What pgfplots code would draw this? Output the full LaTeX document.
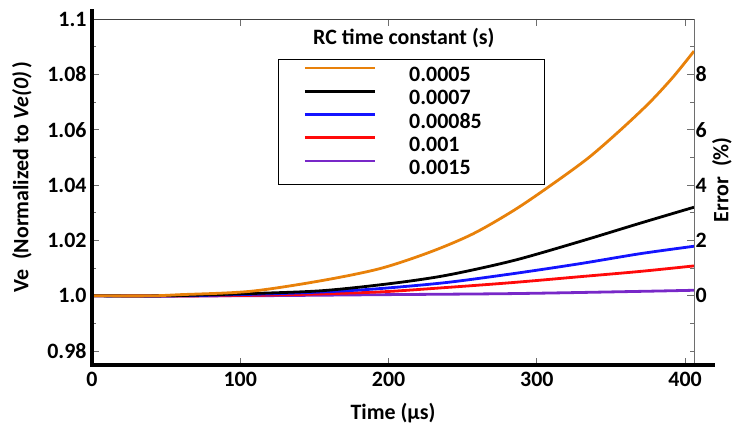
\documentclass[border=0pt]{standalone}
\usepackage{pgfplots}
\pgfplotsset{compat=1.18}
\usepackage{fontspec}
\setmainfont{Carlito}
\usetikzlibrary{calc}
\definecolor{corange}{RGB}{232,129,10}
\definecolor{cpurple}{RGB}{120,40,200}
\definecolor{cblue}{RGB}{20,20,255}
\definecolor{cred}{RGB}{255,10,10}
\definecolor{tickgray}{RGB}{110,110,110}
\newcommand{\tfont}{\fontsize{22}{24}\selectfont\bfseries}
\newcommand{\lfont}{\fontsize{22}{24}\selectfont\bfseries}
\begin{document}
\begin{tikzpicture}
\begin{axis}[
  name=ax, at={(0,0)}, anchor=south west,
  width=602bp, height=346bp, scale only axis,
  xmin=0, xmax=406, ymin=0.975, ymax=1.1,
  axis line style={draw=none},
  xtick={0,100,200,300,400},
  xticklabels={0,100,200,300,400},
  ytick={0.98,1.0,1.02,1.04,1.06,1.08,1.1},
  yticklabels={0.98,1.0,1.02,1.04,1.06,1.08,1.1},
  minor ytick={0.99,1.01,1.03,1.05,1.07,1.09},
  tick align=inside,
  xtick pos=both, ytick pos=left,
  major tick length=7bp, minor tick length=4bp,
  every tick/.style={tickgray, line width=0.8bp},
  tick label style={font=\tfont},
  xticklabel style={yshift=-4bp},
  yticklabel style={xshift=-2bp},
  xlabel={Time (µs)},
  ylabel={Ve\ \ (Normalized to \textit{Ve(0)}\,)},
  every axis x label/.style={at={(rel axis cs:0.5,0)}, anchor=center, yshift=-48bp, font=\tfont},
  every axis y label/.style={at={(rel axis cs:0,0.543)}, anchor=center, rotate=90, yshift=70bp, font=\tfont},
  reverse legend,
  legend style={at={(rel axis cs:0.309,0.884)}, anchor=north west, draw=black, line width=0.8bp,
    inner xsep=25bp, inner ysep=7bp, row sep=5.25bp, column sep=33bp, font=\lfont,
    nodes={inner sep=0pt, text height=15bp, text depth=3bp, text width=110bp, align=left}},
  legend image code/.code={\draw[#1, line width=2.8bp] (0bp,7.5bp) -- (70bp,7.5bp);},
  every axis plot/.append style={line width=2.8bp, smooth, tension=0.5},
]
\addplot[cpurple] coordinates {(0,1) (100,1.0) (194,1.0004) (284,1.0008) (369.5,1.0016) (406,1.002)};
\addlegendentry{0.0015}
\addplot[cred] coordinates {(0,1) (80,1) (140,1.0005) (194,1.0014) (239,1.003) (284,1.0048) (329,1.0069) (369.5,1.0088) (406,1.0108)};
\addlegendentry{0.001}
\addplot[cblue] coordinates {(0,1) (60,1) (120,1.0007) (160,1.0015) (194,1.0026) (239,1.0048) (284,1.008) (329,1.0116) (369.5,1.0152) (406,1.0179)};
\addlegendentry{0.00085}
\addplot[black] coordinates {(0,1) (50,1.0) (100,1.0007) (154,1.0018) (201,1.0044) (239,1.0074) (284,1.0127) (329,1.0196) (369.5,1.0262) (406,1.032)};
\addlegendentry{0.0007}
\addplot[corange] coordinates {(0,1.0) (40,1.0) (59,1.0004) (106.5,1.0016) (154,1.0054) (194,1.0098) (228,1.0158) (257,1.0224) (284,1.0307) (307,1.039) (334,1.0495) (356,1.0597) (376,1.0698) (392,1.0791) (406,1.0884)};
\addlegendentry{0.0005}
\node[font=\lfont, anchor=center] at (rel axis cs:0.518,0.945) {RC time constant (s)};
\end{axis}
\begin{axis}[
  at={(0,0)}, anchor=south west,
  width=602bp, height=346bp, scale only axis,
  xmin=0, xmax=406, ymin=-2.5, ymax=10,
  axis x line=none, axis y line*=right,
  axis line style={-},
  y axis line style={tickgray, line width=0.8bp},
  ytick={0,2,4,6,8}, yticklabels={0,2,4,6,8},
  minor ytick={-2,-1,1,3,5,7,9},
  tick align=inside,
  major tick length=7bp, minor tick length=4bp,
  every tick/.style={tickgray, line width=0.8bp},
  tick label style={font=\tfont},
  yticklabel style={xshift=-2bp},
  ylabel={Error\ \ (\%)},
  every axis y label/.style={at={(rel axis cs:1,0.535)}, anchor=center, rotate=90, yshift=-28bp, font=\tfont},
]
\end{axis}
\draw[line width=0.8bp, black!75] (ax.north west) -- (ax.north east);
\draw[line width=3bp, black] ($(ax.south west)+(0,-1.5bp)$) -- ($(ax.north west)+(0,10bp)$);
\draw[line width=3bp, black] ($(ax.south west)+(-1.5bp,0)$) -- ($(ax.south east)+(21bp,0)$);
\pgfresetboundingbox
\useasboundingbox ($(ax.south west)+(-92bp,-72bp)$) rectangle ($(ax.north east)+(41bp,19bp)$);
\end{tikzpicture}
\end{document}
